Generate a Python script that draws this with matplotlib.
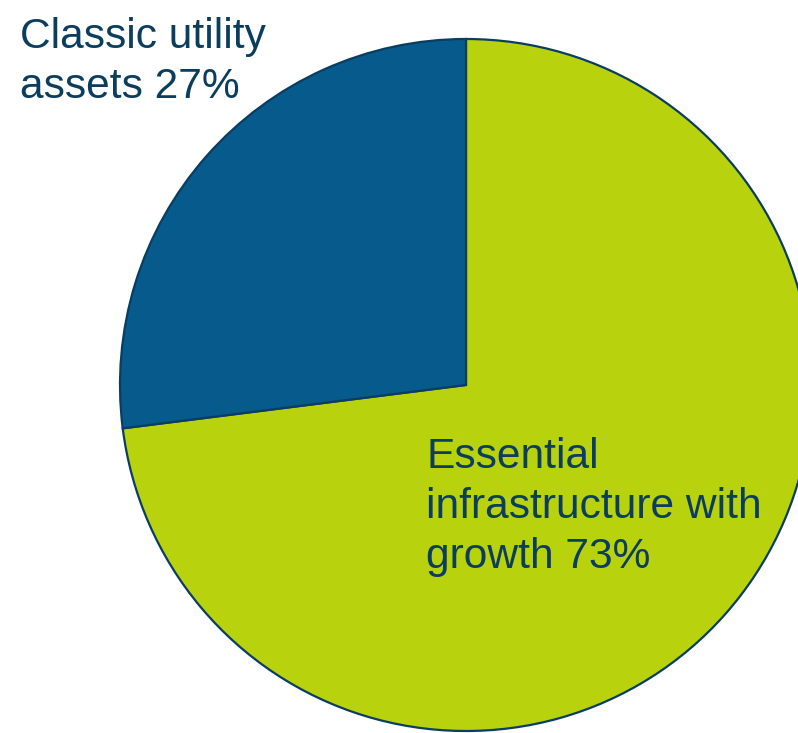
import matplotlib
matplotlib.use("Agg")
import matplotlib.pyplot as plt

labels = ["Essential\ninfrastructure with\ngrowth 73%", "Classic utility\nassets 27%"]
values = [73, 27]
colors = ["#b9d20e", "#065a8c"]
edge = "#0a3d62"
text_color = "#0b3d5f"

W, H = 798, 733
fig = plt.figure(figsize=(W / 100, H / 100), dpi=100)
ax = fig.add_axes([0, 0, 1, 1])
ax.pie(values, colors=colors, startangle=90, counterclock=False,
       center=(466, H - 385), radius=346,
       wedgeprops=dict(edgecolor=edge, linewidth=1.6))
ax.set_xlim(0, W)
ax.set_ylim(0, H)
ax.set_aspect("equal")
ax.axis("off")

ax.text(20, H - 98, labels[1], fontsize=30.6, color=text_color,
        family="Liberation Sans", va="baseline", ha="left", linespacing=1.32)
ax.text(426, H - 568, labels[0], fontsize=30.6, color=text_color,
        family="Liberation Sans", va="baseline", ha="left", linespacing=1.32,
        multialignment="left")

fig.savefig("out.png", dpi=100)
